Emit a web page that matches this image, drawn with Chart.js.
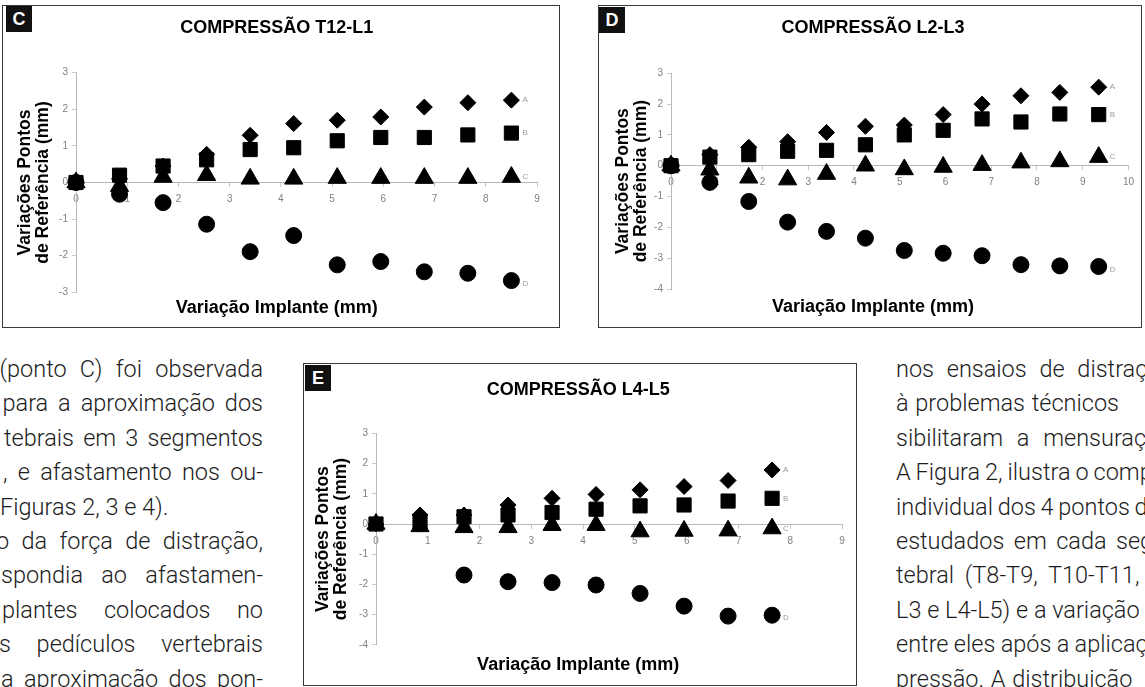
<!DOCTYPE html>
<html>
<head>
<meta charset="utf-8">
<script src="https://cdn.jsdelivr.net/npm/chart.js@4.4.1/dist/chart.umd.min.js"></script>
<style>
html,body{margin:0;padding:0;background:#fff;}
body{width:1145px;height:687px;overflow:hidden;position:relative;font-family:Roboto,'Liberation Sans',Arial,sans-serif;}
.panel{position:absolute;box-sizing:border-box;border:1px solid #3a3a3a;background:#fff;}
.panel canvas{position:absolute;left:0;top:0;}
.tag{position:absolute;width:26px;height:26px;background:#111;color:#fff;font:bold 18px 'Liberation Sans',Arial,sans-serif;line-height:26px;text-align:center;}
.col{position:absolute;font-size:23.5px;line-height:34.4px;font-weight:300;color:#1d1d1d;}
.col div{position:relative;}
.nw{white-space:nowrap;}
.j{text-align:justify;text-align-last:justify;}
</style>
</head>
<body>

<div class="panel" style="left:2px;top:5px;width:558px;height:323px">
  <canvas id="chartC" width="556" height="321"></canvas>
  <div class="tag" style="left:3px;top:0px">C</div>
</div>
<div class="panel" style="left:598px;top:5px;width:544px;height:323px">
  <canvas id="chartD" width="542" height="321"></canvas>
  <div class="tag" style="left:0px;top:1px">D</div>
</div>
<div class="panel" style="left:303px;top:363px;width:554px;height:323px">
  <canvas id="chartE" width="552" height="321"></canvas>
  <div class="tag" style="left:1px;top:1px">E</div>
</div>

<div class="col" style="left:0;top:352px;width:263px">
  <div class="j" style="margin-left:-0.5px">(ponto C) foi observada</div>
  <div class="j" style="margin-left:2.5px">para a aproximação dos</div>
  <div class="j" style="margin-left:4px">tebrais em 3 segmentos</div>
  <div class="j" style="margin-left:3px">, e afastamento nos ou-</div>
  <div class="nw" style="margin-left:0px">Figuras 2, 3 e 4).</div>
  <div class="j" style="margin-left:-4px">o da força de distração,</div>
  <div class="j" style="margin-left:1px">spondia ao afastamen-</div>
  <div class="j" style="margin-left:2px">plantes colocados no</div>
  <div class="j" style="margin-left:-1px">s pedículos vertebrais</div>
  <div class="j" style="margin-left:1px">a aproximação dos pon-</div>
</div>

<div class="col" style="left:896px;top:352px;width:400px">
  <div class="nw" style="word-spacing:7px">nos ensaios de distração</div>
  <div class="nw" style="word-spacing:1px">à problemas técnicos</div>
  <div class="nw" style="word-spacing:8px">sibilitaram a mensuração</div>
  <div class="nw" style="word-spacing:-0.8px">A Figura 2, ilustra o comportamento</div>
  <div class="nw" style="word-spacing:-1px">individual dos 4 pontos de</div>
  <div class="nw" style="word-spacing:3.7px">estudados em cada segmento</div>
  <div class="nw" style="word-spacing:5px">tebral (T8-T9, T10-T11,</div>
  <div class="nw" style="word-spacing:0px">L3 e L4-L5) e a variação</div>
  <div class="nw" style="word-spacing:-0.4px">entre eles após a aplicação</div>
  <div class="nw" style="word-spacing:1px">pressão. A distribuição</div>
</div>

<script>
// ---------------- DATA ----------------
// Panel C - COMPRESSÃO T12-L1
const xC = [0, 0.85, 1.7, 2.55, 3.4, 4.25, 5.1, 5.95, 6.8, 7.65, 8.5];
const cA = [0, 0.1, 0.45, 0.77, 1.29, 1.61, 1.7, 1.79, 2.06, 2.18, 2.25];
const cB = [0, 0.2, 0.45, 0.62, 0.9, 0.95, 1.14, 1.23, 1.23, 1.3, 1.35];
const cC = [0, -0.1, 0.15, 0.2, 0.1, 0.1, 0.12, 0.12, 0.12, 0.12, 0.15];
const cD = [0, -0.32, -0.55, -1.14, -1.89, -1.45, -2.25, -2.16, -2.44, -2.48, -2.68];

// Panel D - COMPRESSÃO L2-L3
const xD = [0, 0.85, 1.7, 2.55, 3.4, 4.25, 5.1, 5.95, 6.8, 7.65, 8.5, 9.35];
const dA = [0, 0.36, 0.6, 0.78, 1.08, 1.28, 1.32, 1.66, 2.0, 2.27, 2.38, 2.55];
const dB = [0, 0.28, 0.36, 0.47, 0.5, 0.68, 1.0, 1.15, 1.52, 1.42, 1.68, 1.66];
const dC = [0, -0.13, -0.39, -0.45, -0.27, 0.0, -0.12, -0.04, 0.02, 0.1, 0.14, 0.28];
const dD = [0, -0.54, -1.16, -1.83, -2.13, -2.35, -2.75, -2.84, -2.92, -3.21, -3.25, -3.27];

// Panel E - COMPRESSÃO L4-L5
const xE = [0, 0.85, 1.7, 2.55, 3.4, 4.25, 5.1, 5.95, 6.8, 7.65];
const eA = [0, 0.3, 0.3, 0.63, 0.85, 0.98, 1.13, 1.24, 1.44, 1.79];
const eB = [0, 0.06, 0.24, 0.3, 0.38, 0.49, 0.6, 0.63, 0.76, 0.85];
const eC = [0, -0.08, -0.11, -0.11, -0.04, -0.04, -0.25, -0.23, -0.22, -0.15];
const eD = [null, null, -1.69, -1.91, -1.94, -2.02, -2.3, -2.72, -3.05, -3.02];

const seriesTags = ['A', 'B', 'C', 'D'];
const yTitleLines = ['Variações Pontos', 'de Referência (mm)'];
const xTitleText = 'Variação Implante (mm)';

// ---------------- RENDERING ----------------
Chart.defaults.font.family = "'Liberation Sans', Arial, Helvetica, sans-serif";

const endTags = {
  id: 'endTags',
  afterDatasetsDraw(chart) {
    const ctx = chart.ctx;
    ctx.save();
    ctx.font = "8px 'Liberation Sans', Arial, sans-serif";
    ctx.fillStyle = '#9a9a9a';
    ctx.textBaseline = 'middle';
    chart.data.datasets.forEach((ds, i) => {
      const meta = chart.getDatasetMeta(i);
      const el = meta.data[meta.data.length - 1];
      if (!el || !ds.tag) return;
      ctx.fillText(ds.tag, el.x + 11, el.y + (ds.tag === 'D' ? 3 : 0));
    });
    ctx.restore();
  }
};

function series(xs, ys, style, radius, tag) {
  return {
    data: xs.map((x, i) => ({x: x, y: ys[i]})).filter(p => p.y !== null),
    pointStyle: style,
    pointRadius: radius,
    backgroundColor: '#000',
    borderColor: '#000',
    borderWidth: 1,
    showLine: false,
    clip: false,
    tag: tag
  };
}

function makeChart(id, spec, L) {
  const tickFont = {size: 10};
  return new Chart(document.getElementById(id), {
    type: 'scatter',
    data: {
      datasets: [
        series(spec.x, spec.A, 'rectRot', 8, seriesTags[0]),
        series(spec.x, spec.B, 'rect', 10, seriesTags[1]),
        series(spec.x, spec.C, 'triangle', 10.5, seriesTags[2]),
        series(spec.x, spec.D, 'circle', 8, seriesTags[3])
      ]
    },
    options: {
      responsive: false,
      animation: false,
      events: [],
      layout: {padding: {left: L.padL, right: L.padR, top: 0, bottom: 0}},
      plugins: {
        legend: {display: false},
        tooltip: {enabled: false},
        title: {
          display: true, text: spec.title, color: '#000',
          font: {size: 18, weight: 'bold', lineHeight: 1.2},
          padding: {top: L.tTop, bottom: L.tBot}
        },
        subtitle: {
          display: true, position: 'bottom', text: xTitleText, color: '#000',
          font: {size: 18, weight: 'bold', lineHeight: 1.2},
          padding: {top: L.sTop, bottom: L.sBot}
        }
      },
      scales: {
        x: {
          type: 'linear', position: {y: 0}, min: 0, max: spec.xMax,
          ticks: {stepSize: 1, color: '#808080', font: tickFont, padding: 7, maxRotation: 0, autoSkip: false},
          grid: {display: true, drawOnChartArea: false, drawTicks: true, tickLength: 4, color: '#c8c8c8'},
          border: {display: true, color: '#b8b8b8', width: 1}
        },
        y: {
          type: 'linear', position: 'left', min: spec.yMin, max: spec.yMax,
          afterFit: s => { s.width = L.yW; },
          ticks: {stepSize: 1, color: '#808080', font: tickFont, padding: 4},
          grid: {display: true, drawOnChartArea: false, drawTicks: true, tickLength: 4, color: '#c8c8c8'},
          border: {display: true, color: '#b8b8b8', width: 1},
          title: {
            display: true, text: yTitleLines, color: '#000',
            font: {size: 17.5, weight: 'bold', lineHeight: '18px'},
            padding: {top: 0, bottom: 0}
          }
        }
      }
    },
    plugins: [endTags]
  });
}

makeChart('chartC',
  {title: 'COMPRESSÃO T12-L1', x: xC, A: cA, B: cB, C: cC, D: cD, xMax: 9, yMin: -3, yMax: 3},
  {padL: 13.5, padR: 22, yW: 59.5, tTop: 11.2, tBot: 33.9, sTop: 4.9, sBot: 8.2});

makeChart('chartD',
  {title: 'COMPRESSÃO L2-L3', x: xD, A: dA, B: dB, C: dC, D: dD, xMax: 10, yMin: -4, yMax: 3},
  {padL: 15, padR: 9, yW: 57, tTop: 11.2, tBot: 34.5, sTop: 7.2, sBot: 9.2});

makeChart('chartE',
  {title: 'COMPRESSÃO L4-L5', x: xE, A: eA, B: eB, C: eC, D: eD, xMax: 9, yMin: -4, yMax: 3},
  {padL: 10.3, padR: 14, yW: 61.7, tTop: 15.2, tBot: 32.6, sTop: 9.4, sBot: 9.2});
</script>
</body>
</html>
